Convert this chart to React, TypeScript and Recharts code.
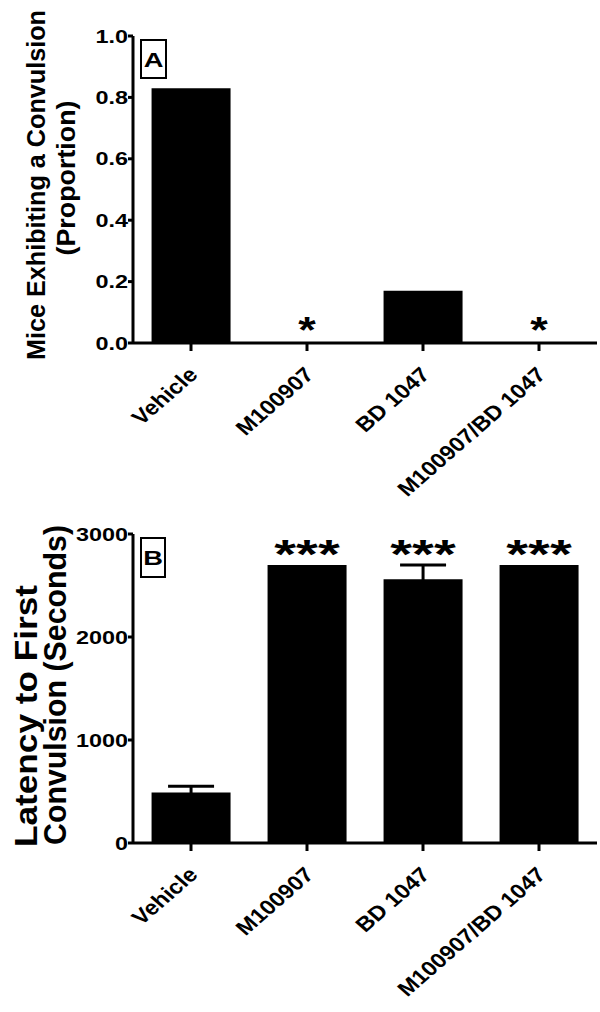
import React from "react";
import { ComposedChart, Bar, Scatter, XAxis, YAxis, ErrorBar } from "recharts";

const groups = ["Vehicle", "M100907", "BD 1047", "M100907/BD 1047"];
const proportion = [0.83, 0, 0.17, 0];
const latency = [490, 2700, 2560, 2700];
const latencyErr = [60, null, 140, null];
const starsA = ["", "*", "", "*"];
const starsB = ["", "***", "***", "***"];
const ticksA = [0, 0.2, 0.4, 0.6, 0.8, 1.0];
const ticksB = [0, 1000, 2000, 3000];

const font = "'Liberation Sans', Arial, sans-serif";
// horizontal text in the source looks stretched sideways
const SX = 1.3;

// starAt = where the asterisks sit: top of bar, or top of its error bar
const dataA = groups.map((name, i) => ({
  name,
  value: proportion[i],
  stars: starsA[i],
  starAt: starsA[i] ? proportion[i] : null,
}));
const dataB = groups.map((name, i) => ({
  name,
  value: latency[i],
  err: latencyErr[i],
  stars: starsB[i],
  starAt: starsB[i] ? latency[i] + (latencyErr[i] || 0) : null,
}));

const YTick = (digits: number) => (props: any) => {
  const { x, y, payload } = props;
  return (
    <text
      transform={`translate(${x},${y + 6.5}) scale(${SX},1)`}
      textAnchor="end"
      fontFamily={font}
      fontWeight="bold"
      fontSize={18}
      fill="#000"
    >
      {payload.value.toFixed(digits)}
    </text>
  );
};

const XTick = (props: any) => {
  const { x, y, payload } = props;
  return (
    <text
      transform={`translate(${x + 8},${y + 23}) scale(1.15,1) rotate(-45)`}
      textAnchor="end"
      fontFamily={font}
      fontWeight="bold"
      fontSize={20.5}
      fill="#000"
    >
      {payload.value}
    </text>
  );
};

const Stars = (size: number, sx: number, gap: number) => (props: any) => {
  const { cx, cy, payload } = props;
  if (!payload || !payload.stars || cy == null || isNaN(cy)) return <g />;
  return (
    <text
      transform={`translate(${cx},${cy + gap}) scale(${sx},1)`}
      textAnchor="middle"
      fontFamily={font}
      fontWeight="bold"
      fontSize={size}
      fill="#000"
    >
      {payload.stars}
    </text>
  );
};

const Title = ({ x, y, size, len, children }: any) => (
  <text
    transform={`translate(${x},${y}) rotate(-90)`}
    textAnchor="middle"
    fontFamily={font}
    fontWeight="bold"
    fontSize={size}
    textLength={len}
    lengthAdjust="spacingAndGlyphs"
    fill="#000"
  >
    {children}
  </text>
);

const PanelTag = ({ x, y, w, h, children }: any) => (
  <g>
    <rect x={x} y={y} width={w} height={h} fill="#fff" stroke="#000" strokeWidth={2} />
    <text
      transform={`translate(${x + w / 2},${y + h / 2 + 7.5}) scale(${SX},1)`}
      textAnchor="middle"
      fontFamily={font}
      fontWeight="bold"
      fontSize={21}
      fill="#000"
    >
      {children}
    </text>
  </g>
);

const axisLine = { stroke: "#000", strokeWidth: 3 };

export default function App() {
  return (
    <div style={{ position: "absolute", left: 0, top: 0, width: 600, background: "#fff" }}>
      <ComposedChart
        width={600}
        height={505}
        data={dataA}
        margin={{ top: 36, right: 3, left: 0, bottom: 0 }}
        barCategoryGap="16%"
      >
        <XAxis
          dataKey="name"
          height={162}
          interval={0}
          axisLine={axisLine}
          tickLine={axisLine}
          tickSize={8}
          tick={XTick}
        />
        <YAxis
          width={133}
          domain={[0, 1]}
          ticks={ticksA}
          interval={0}
          axisLine={axisLine}
          tickLine={axisLine}
          tickSize={5}
          tickMargin={0}
          tick={YTick(1)}
        />
        <Bar dataKey="value" fill="#000" isAnimationActive={false} />
        <Scatter dataKey="starAt" isAnimationActive={false} shape={Stars(36, 1.25, 0)} />
        <Title x={45} y={185} size={25.5} len={350}>
          Mice Exhibiting a Convulsion
        </Title>
        <Title x={75} y={178} size={25.5} len={155}>
          (Proportion)
        </Title>
        <PanelTag x={141} y={40} w={25} h={38}>
          A
        </PanelTag>
      </ComposedChart>
      <ComposedChart
        width={600}
        height={507}
        data={dataB}
        margin={{ top: 29, right: 3, left: 0, bottom: 0 }}
        barCategoryGap="16%"
      >
        <XAxis
          dataKey="name"
          height={169}
          interval={0}
          axisLine={axisLine}
          tickLine={axisLine}
          tickSize={8}
          tick={XTick}
        />
        <YAxis
          width={133}
          domain={[0, 3000]}
          ticks={ticksB}
          interval={0}
          axisLine={axisLine}
          tickLine={axisLine}
          tickSize={5}
          tickMargin={0}
          tick={YTick(0)}
        />
        <Bar dataKey="value" fill="#000" isAnimationActive={false}>
          <ErrorBar dataKey="err" width={23} strokeWidth={3} stroke="#000" direction="y" />
        </Bar>
        <Scatter dataKey="starAt" isAnimationActive={false} shape={Stars(40, 1.4, 3)} />
        <Title x={36.5} y={211} size={31} len={262}>
          Latency to First
        </Title>
        <Title x={65.5} y={180} size={31} len={320}>
          Convulsion (Seconds)
        </Title>
        <PanelTag x={141} y={33} w={24} h={39}>
          B
        </PanelTag>
      </ComposedChart>
    </div>
  );
}
